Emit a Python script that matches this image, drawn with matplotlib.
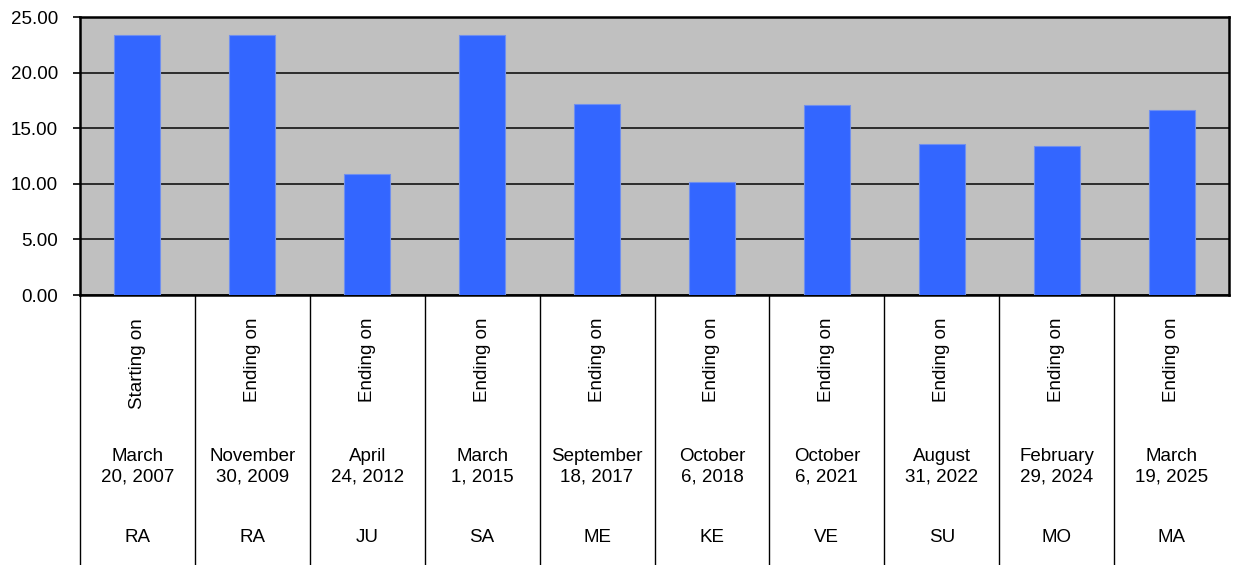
import matplotlib
matplotlib.use("Agg")
import matplotlib.pyplot as plt

plt.rcParams['font.family'] = ['Liberation Sans', 'DejaVu Sans']

# data
phases = ["Starting on", "Ending on", "Ending on", "Ending on", "Ending on",
          "Ending on", "Ending on", "Ending on", "Ending on", "Ending on"]
dates = ["March\n20, 2007", "November\n30, 2009", "April\n24, 2012", "March\n1, 2015",
         "September\n18, 2017", "October\n6, 2018", "October\n6, 2021", "August\n31, 2022",
         "February\n29, 2024", "March\n19, 2025"]
codes = ["RA", "RA", "JU", "SA", "ME", "KE", "VE", "SU", "MO", "MA"]
values = [23.37, 23.37, 10.92, 23.37, 17.19, 10.2, 17.07, 13.56, 13.44, 16.62]
yticks = [0, 5, 10, 15, 20, 25]

W, H = 1238, 565
fig = plt.figure(figsize=(W / 100, H / 100), dpi=100)
left, right, top, bottom = 80, 1229, 17, 295
ax = fig.add_axes([left / W, 1 - bottom / H, (right - left) / W, (bottom - top) / H])

ax.set_facecolor('#c0c0c0')
x = list(range(len(values)))
ax.bar(x, values, width=0.4, color='#3366ff', edgecolor='#6f8ff0', linewidth=0.8, zorder=3)

fs = 13.5
ax.set_xlim(-0.5, len(values) - 0.5)
ax.set_ylim(0, 25)
ax.set_yticks(yticks)
ax.set_yticklabels([f"{v:.2f}" for v in yticks], fontsize=fs)
ax.yaxis.grid(True, color='#202020', linewidth=1.3, zorder=1)
ax.set_axisbelow(True)
ax.tick_params(axis='y', length=5, width=1.2, pad=11)
ax.set_xticks([])
for s in ax.spines.values():
    s.set_linewidth(1.8)
    s.set_color('black')

# table-like category labels below the axis
trans = ax.get_xaxis_transform()
ybot = -(H - bottom) / (bottom - top)
for i in range(len(values)):
    ax.plot([i - 0.5, i - 0.5], [0, ybot], transform=trans, color='black',
            linewidth=1.0, clip_on=False)
    ax.text(i, -23 / 278, phases[i], transform=trans, rotation=90, ha='center',
            va='top', fontsize=fs)
    ax.text(i, -(467 - bottom) / 278, dates[i], transform=trans, ha='center',
            va='center', fontsize=fs, linespacing=1.3)
    ax.text(i, -(538 - bottom) / 278, codes[i], transform=trans, ha='center',
            va='center', fontsize=fs)

fig.savefig("out.png", dpi=100)
